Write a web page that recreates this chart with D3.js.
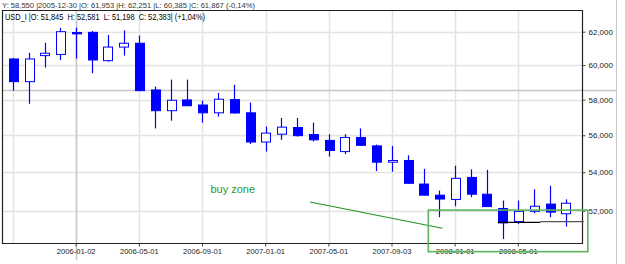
<!DOCTYPE html>
<html>
<head>
<meta charset="utf-8">
<script src="https://cdn.jsdelivr.net/npm/d3@7"></script>
<style>
  body { margin: 0; background: #fff; }
  text { font-family: "Liberation Sans", Arial, sans-serif; }
</style>
</head>
<body>
<svg id="chart" width="625" height="264"></svg>
<script>
// monthly candles, 2005-09 .. 2008-08
var months = ["2005-09","2005-10","2005-11","2005-12","2006-01","2006-02","2006-03","2006-04",
              "2006-05","2006-06","2006-07","2006-08","2006-09","2006-10","2006-11","2006-12",
              "2007-01","2007-02","2007-03","2007-04","2007-05","2007-06","2007-07","2007-08",
              "2007-09","2007-10","2007-11","2007-12","2008-01","2008-02","2008-03","2008-04",
              "2008-05","2008-06","2008-07","2008-08"];
var open  = [60360,59030,60560,60630,61953,61960,60260,61070,61300,58550,57370,57980,
             57690,57250,58000,57250,55630,56060,56430,56040,55720,55110,55880,55420,
             54540,54630,53380,52800,52580,53730,52850,52110,51450,51970,52340,51845];
var high  = [60420,60730,61330,62230,62251,62040,61800,62080,61760,58750,59150,59150,
             57940,58380,58850,57830,56480,56960,56960,56700,56060,56060,56380,55490,
             55420,54910,54180,53040,54350,54160,54130,52520,52520,53110,53290,52581];
var low   = [58510,57760,59850,60300,60385,59520,60200,60560,58490,56380,56810,57620,
             56700,57040,57200,55520,55110,55750,55930,55660,54840,54970,55420,54070,
             54030,53400,52780,51670,52230,52700,52200,50570,51320,51870,51670,51198];
var close = [59030,60360,60700,62000,61867,60300,61070,61300,58510,57370,57960,57650,
             57250,58020,57240,55630,56120,56450,55980,55750,55170,55880,55450,54540,
             54630,53420,52800,52600,53680,52850,52210,51380,51970,52230,51930,52383];

var priceTicks = [52000, 54000, 56000, 58000, 60000, 62000];
var gridMonths = ["2005-09","2006-01","2006-05","2006-09","2007-01","2007-05","2007-09","2008-01","2008-05"];
var dateTickMonths = ["2006-01","2006-05","2006-09","2007-01","2007-05","2007-09","2008-01","2008-05"];
var dateTickLabels = ["2006-01-02","2006-05-01","2006-09-01","2007-01-01","2007-05-01","2007-09-03","2008-01-01","2008-05-01"];

var headerLine = "Y: 58,550 |2005-12-30 |O: 61,953 |H: 62,251 |L: 60,385 |C: 61,867 (-0,14%)";
var legendLine = "USD_I |O: 51,845  H: 52,581  L: 51,198  C: 52,383| (+1,04%)";

// drawn objects (month index, price)
var crossMonth = "2006-01", crossPrice = 58550;
var buyText = {i: 12.5, p: 52920, label: "buy zone"};
var trendLine = [{i: 18.8, p: 52447}, {i: 27.2, p: 51109}];
var zoneRect = {i0: 26.3, i1: 36.4, p0: 52030, p1: 49950};
var levelBlack = [{i: 30.7, p: 51411}, {i: 33.4, p: 51411}];
var levelGray = [{i: 33.4, p: 51442}, {i: 36.15, p: 51442}];

var svg = d3.select("#chart"),
    plot = {left: 2, right: 582, top: 10, bottom: 243};

var x = d3.scaleBand().domain(months).range([5.1, 573.6]).paddingInner(0.46).paddingOuter(0.23);
var y = d3.scaleLog().domain([50376, 63336]).range([plot.bottom, plot.top]);
var step = x.step();
function xc(m) { return x(m) + x.bandwidth() / 2; }
function xi(i) { return xc(months[0]) + i * step; }

var data = months.map(function(m, i) {
  return {m: m, o: open[i], h: high[i], l: low[i], c: close[i]};
});

// grid
var grid = svg.append("g");
grid.selectAll(".hg").data(priceTicks).enter().append("line")
    .attr("x1", plot.left).attr("x2", plot.right)
    .attr("y1", function(d) { return Math.round(y(d)) + 0.5; })
    .attr("y2", function(d) { return Math.round(y(d)) + 0.5; })
    .attr("stroke", "#e3e3e3").attr("stroke-width", 1.5);
grid.selectAll(".vg").data(gridMonths).enter().append("line")
    .attr("x1", function(d) { return Math.round(xc(d)) + 0.5; })
    .attr("x2", function(d) { return Math.round(xc(d)) + 0.5; })
    .attr("y1", plot.top).attr("y2", plot.bottom)
    .attr("stroke", "#e3e3e3").attr("stroke-width", 1.5);

// crosshair
svg.append("line")
    .attr("x1", plot.left).attr("x2", 616)
    .attr("y1", Math.round(y(crossPrice)) + 0.5).attr("y2", Math.round(y(crossPrice)) + 0.5)
    .attr("stroke", "#c8c8c8").attr("stroke-width", 1.5);
svg.append("line")
    .attr("x1", Math.round(xc(crossMonth)) + 0.5).attr("x2", Math.round(xc(crossMonth)) + 0.5)
    .attr("y1", plot.top).attr("y2", 260)
    .attr("stroke", "#c8c8c8").attr("stroke-width", 1.5);

// widget right border
svg.append("line").attr("x1", 616.5).attr("x2", 616.5).attr("y1", 0).attr("y2", 264)
    .attr("stroke", "#c8c8c8");

// candles
var candles = svg.append("g").selectAll("g").data(data).enter().append("g");
candles.append("line")
    .attr("x1", function(d) { return Math.round(xc(d.m)) + 0.5; })
    .attr("x2", function(d) { return Math.round(xc(d.m)) + 0.5; })
    .attr("y1", function(d) { return y(d.h); })
    .attr("y2", function(d) { return y(d.l); })
    .attr("stroke", "#0000ff").attr("stroke-width", 1.2);
candles.append("rect")
    .attr("x", function(d) { return Math.round(x(d.m)) + 0.5; })
    .attr("width", Math.round(x.bandwidth()))
    .attr("y", function(d) { return y(Math.max(d.o, d.c)); })
    .attr("height", function(d) { return Math.max(1, Math.abs(y(d.o) - y(d.c))); })
    .attr("fill", function(d) { return d.c < d.o ? "#0000ff" : "#ffffff"; })
    .attr("stroke", "#0000ff").attr("stroke-width", 1);

// axes frame
svg.append("path")
    .attr("d", "M" + (plot.left + 0.5) + "," + (plot.top + 0.5) + "H" + (plot.right + 0.5) +
               "V" + (plot.bottom + 0.5) + "H" + (plot.left + 0.5) + "Z")
    .attr("fill", "none").attr("stroke", "#222").attr("stroke-width", 1.2);

// right price axis
var yAxis = svg.append("g")
    .attr("transform", "translate(" + (plot.right + 0.5) + ",0)")
    .call(d3.axisRight(y).tickValues(priceTicks).tickFormat(d3.format(",")).tickSize(3).tickPadding(3));
yAxis.select(".domain").remove();
yAxis.selectAll("line").attr("stroke", "#444");
yAxis.selectAll("text").attr("font-size", "8px").attr("fill", "#222")
    .attr("font-family", "Liberation Sans, Arial, sans-serif");

// bottom date axis
var xAxis = svg.append("g")
    .attr("transform", "translate(0," + (plot.bottom + 0.5) + ")")
    .call(d3.axisBottom(x).tickValues(dateTickMonths)
      .tickFormat(function(d) { return dateTickLabels[dateTickMonths.indexOf(d)]; })
      .tickSize(3).tickPadding(2));
xAxis.select(".domain").remove();
xAxis.selectAll("line").attr("stroke", "#444");
xAxis.selectAll("text").attr("font-size", "7.6px").attr("fill", "#222")
    .attr("font-family", "Liberation Sans, Arial, sans-serif");

// header texts
svg.append("text").attr("x", 2).attr("y", 8)
    .attr("font-size", "8px").attr("fill", "#333")
    .attr("textLength", 253).attr("lengthAdjust", "spacingAndGlyphs")
    .style("white-space", "pre").text(headerLine);
svg.append("text").attr("x", 5).attr("y", 20)
    .attr("font-size", "8.5px").attr("fill", "#000")
    .attr("textLength", 200).attr("lengthAdjust", "spacingAndGlyphs")
    .style("white-space", "pre").text(legendLine);

// user drawings
svg.append("text").attr("x", xi(buyText.i)).attr("y", y(buyText.p))
    .attr("font-size", "11px").attr("fill", "#2a9a2a").text(buyText.label);
svg.append("line")
    .attr("x1", xi(trendLine[0].i)).attr("y1", y(trendLine[0].p))
    .attr("x2", xi(trendLine[1].i)).attr("y2", y(trendLine[1].p))
    .attr("stroke", "#1a8f1a").attr("stroke-width", 1);
svg.append("rect")
    .attr("x", xi(zoneRect.i0)).attr("y", y(zoneRect.p0))
    .attr("width", xi(zoneRect.i1) - xi(zoneRect.i0))
    .attr("height", y(zoneRect.p1) - y(zoneRect.p0))
    .attr("fill", "none").attr("stroke", "#5cb45c").attr("stroke-width", 1.6);
svg.append("line")
    .attr("x1", xi(levelBlack[0].i)).attr("y1", y(levelBlack[0].p))
    .attr("x2", xi(levelBlack[1].i)).attr("y2", y(levelBlack[1].p))
    .attr("stroke", "#000").attr("stroke-width", 1.2);
svg.append("line")
    .attr("x1", xi(levelGray[0].i)).attr("y1", y(levelGray[0].p))
    .attr("x2", xi(levelGray[1].i)).attr("y2", y(levelGray[1].p))
    .attr("stroke", "#555").attr("stroke-width", 1.2);
</script>
</body>
</html>
